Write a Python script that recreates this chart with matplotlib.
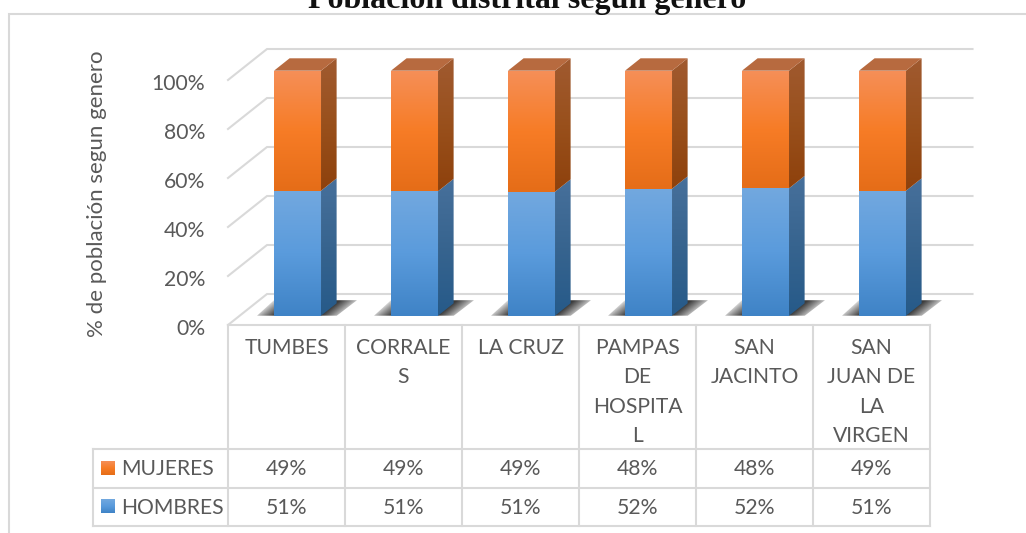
import numpy as np
import matplotlib
matplotlib.use('Agg')
import matplotlib.pyplot as plt
from matplotlib.colors import LinearSegmentedColormap
from matplotlib.patches import Polygon
from matplotlib.transforms import ScaledTranslation

categories = ['TUMBES', 'CORRALE\nS', 'LA CRUZ', 'PAMPAS\nDE\nHOSPITA\nL', 'SAN\nJACINTO', 'SAN\nJUAN DE\nLA\nVIRGEN']
hombres = [51.0, 50.8, 50.6, 51.8, 52.0, 51.0]
mujeres = [49.0, 49.2, 49.4, 48.2, 48.0, 49.0]
hombres_txt = ['51%', '51%', '51%', '52%', '52%', '51%']
mujeres_txt = ['49%', '49%', '49%', '48%', '48%', '49%']
yticks = [0, 20, 40, 60, 80, 100]

W, H = 1026, 533
TXT = '#595959'
GRID = '#d9d9d9'
FONT = 'Lato'
CELL = 117.0
LEFT = 228.0
BAR_L, BAR_R = 0.293, 0.695

# depth of the fake 3d floor, in category and percent units
DX = 39 / CELL
DY = 31 / 2.45

ORANGE = ['#f58f58', '#f77c26', '#e56d18']
ORANGE_SIDE = ['#a05a30', '#99501c', '#8e410c']
ORANGE_TOP = '#b76a3f'
BLUE = ['#72a8df', '#5a9bdc', '#3f83c6']
BLUE_SIDE = ['#47709b', '#37648f', '#265a89']


def proj(x, y, d):
    return x + d * DX, y + d * DY


def grad_poly(ax, pts, colors, zorder):
    # vertical gradient clipped to a polygon
    pts = np.array(pts)
    cmap = LinearSegmentedColormap.from_list('g', colors)
    img = np.linspace(0, 1, 128).reshape(-1, 1)
    extent = (pts[:, 0].min(), pts[:, 0].max(), pts[:, 1].min(), pts[:, 1].max())
    im = ax.imshow(img, cmap=cmap, extent=extent, aspect='auto', zorder=zorder, origin='upper')
    im.set_clip_box(fig.bbox)
    im.set_clip_path(Polygon(pts, closed=True, transform=ax.transData))


def draw_shadow(ax, i, zorder):
    corners = [proj(i + 0.148, 0, 0.3), proj(i + 0.83, 0, 0.3), proj(i + 0.836, 0, 0.8), proj(i + 0.126, 0, 0.8)]
    pts = np.array(corners)
    xs = np.linspace(pts[:, 0].min(), pts[:, 0].max(), 160)
    ys = np.linspace(pts[:, 1].max(), pts[:, 1].min(), 40)
    gx, gy = np.meshgrid(xs, ys)
    u = gx - gy / DY * DX - i
    dist = np.maximum(np.maximum(BAR_L - u, u - BAR_R), 0)
    rgba = np.zeros(gx.shape + (4,))
    rgba[..., :3] = 0.15
    rgba[..., 3] = 0.9 * np.clip(1 - dist / 0.19, 0, 1) ** 0.8
    extent = (xs[0], xs[-1], ys[-1], ys[0])
    im = ax.imshow(rgba, extent=extent, aspect='auto', zorder=zorder, origin='upper')
    im.set_clip_box(fig.bbox)
    im.set_clip_path(Polygon(pts, closed=True, transform=ax.transData))


def draw_bar(ax, i, y0, y1, front, side, zorder):
    x0, x1 = i + BAR_L, i + BAR_R
    grad_poly(ax, [proj(x0, y0, 0.3), proj(x1, y0, 0.3), proj(x1, y1, 0.3), proj(x0, y1, 0.3)], front, zorder + 1)
    grad_poly(ax, [proj(x1, y0, 0.3), proj(x1, y0, 0.7), proj(x1, y1, 0.7), proj(x1, y1, 0.3)], side, zorder)


fig = plt.figure(figsize=(W / 100, H / 100), dpi=100, facecolor='white')

# chart plane: floor front edge at y=325, x from 228 to 930
ax = fig.add_axes([LEFT / W, (H - 325) / H, 6 * CELL / W, 245 / H])
ax.patch.set_visible(False)

for t in yticks:
    x0, y0 = proj(0, t, 0)
    x1, y1 = proj(0, t, 1)
    x2, y2 = proj(6.03, t, 1)
    ax.plot([x0, x1, x2], [y0, y1, y2], color=GRID, lw=1.5, zorder=1, clip_on=False, solid_joinstyle='miter')

for i in range(len(categories)):
    draw_shadow(ax, i, 2)
    h = hombres[i]
    top = h + mujeres[i]
    draw_bar(ax, i, 0, h, BLUE, BLUE_SIDE, 3)
    draw_bar(ax, i, h, top, ORANGE, ORANGE_SIDE, 3)
    roof = [proj(i + BAR_L, top, 0.3), proj(i + BAR_R, top, 0.3), proj(i + BAR_R, top, 0.7), proj(i + BAR_L, top, 0.7)]
    ax.add_patch(Polygon(roof, closed=True, facecolor=ORANGE_TOP, edgecolor='none', zorder=5, clip_on=False))

ax.set_xlim(0, 6)
ax.set_ylim(0, 100)
ax.set_xticks([])
ax.set_yticks(yticks)
ax.set_yticklabels([f'{t}%' for t in yticks], fontsize=15.2, color=TXT, family=FONT)
ax.tick_params(axis='y', length=0, pad=16.5)
# labels sit a little under their gridline start
shift = ScaledTranslation(0, -2 / 100, fig.dpi_scale_trans)
for lab in ax.get_yticklabels():
    lab.set_transform(lab.get_transform() + shift)
for s in ax.spines.values():
    s.set_visible(False)
ax.set_ylabel('% de población segun genero', fontsize=16, color=TXT, family=FONT)
ax.yaxis.set_label_coords((107 - LEFT) / (6 * CELL), (325 - 194) / 245)

# page level layer in pixel coordinates: border, title, data table
ov = fig.add_axes([0, 0, 1, 1])
ov.patch.set_visible(False)
ov.set_axis_off()

ov.plot([9, 9, W], [H, 14, 14], color=GRID, lw=1.5, solid_joinstyle='miter')
ov.text(527, 8, 'Población distrital según genero', fontsize=23, fontweight='bold', ha='center',
        va='baseline', family='Liberation Serif', color='#111111')

edges = [LEFT + CELL * i for i in range(7)]
for x in edges:
    ov.plot([x, x], [325, 526], color=GRID, lw=1.5)
ov.plot([93, 93], [449, 526], color=GRID, lw=1.5)
for y in [325, 449, 488, 526]:
    ov.plot([93 if y > 325 else LEFT, edges[-1]], [y, y], color=GRID, lw=1.5)

for i, label in enumerate(categories):
    cx = edges[i] + CELL / 2
    for j, line in enumerate(label.split('\n')):
        ov.text(cx, 348 + j * 29.4, line, fontsize=15.2, color=TXT, ha='center', va='center', family=FONT)
    ov.text(cx, 469, mujeres_txt[i], fontsize=15.2, color=TXT, ha='center', va='center', family=FONT)
    ov.text(cx, 507.5, hombres_txt[i], fontsize=15.2, color=TXT, ha='center', va='center', family=FONT)

grad_poly(ov, [(101, 461), (115, 461), (115, 475), (101, 475)], ORANGE[::-1], 3)
grad_poly(ov, [(101, 499), (115, 499), (115, 513), (101, 513)], BLUE[::-1], 3)
ov.text(121, 469, 'MUJERES', fontsize=15.2, color=TXT, ha='left', va='center', family=FONT)
ov.text(121, 507.5, 'HOMBRES', fontsize=15.2, color=TXT, ha='left', va='center', family=FONT)

ov.set_xlim(0, W)
ov.set_ylim(H, 0)

fig.savefig('out.png', dpi=100, facecolor='white')
